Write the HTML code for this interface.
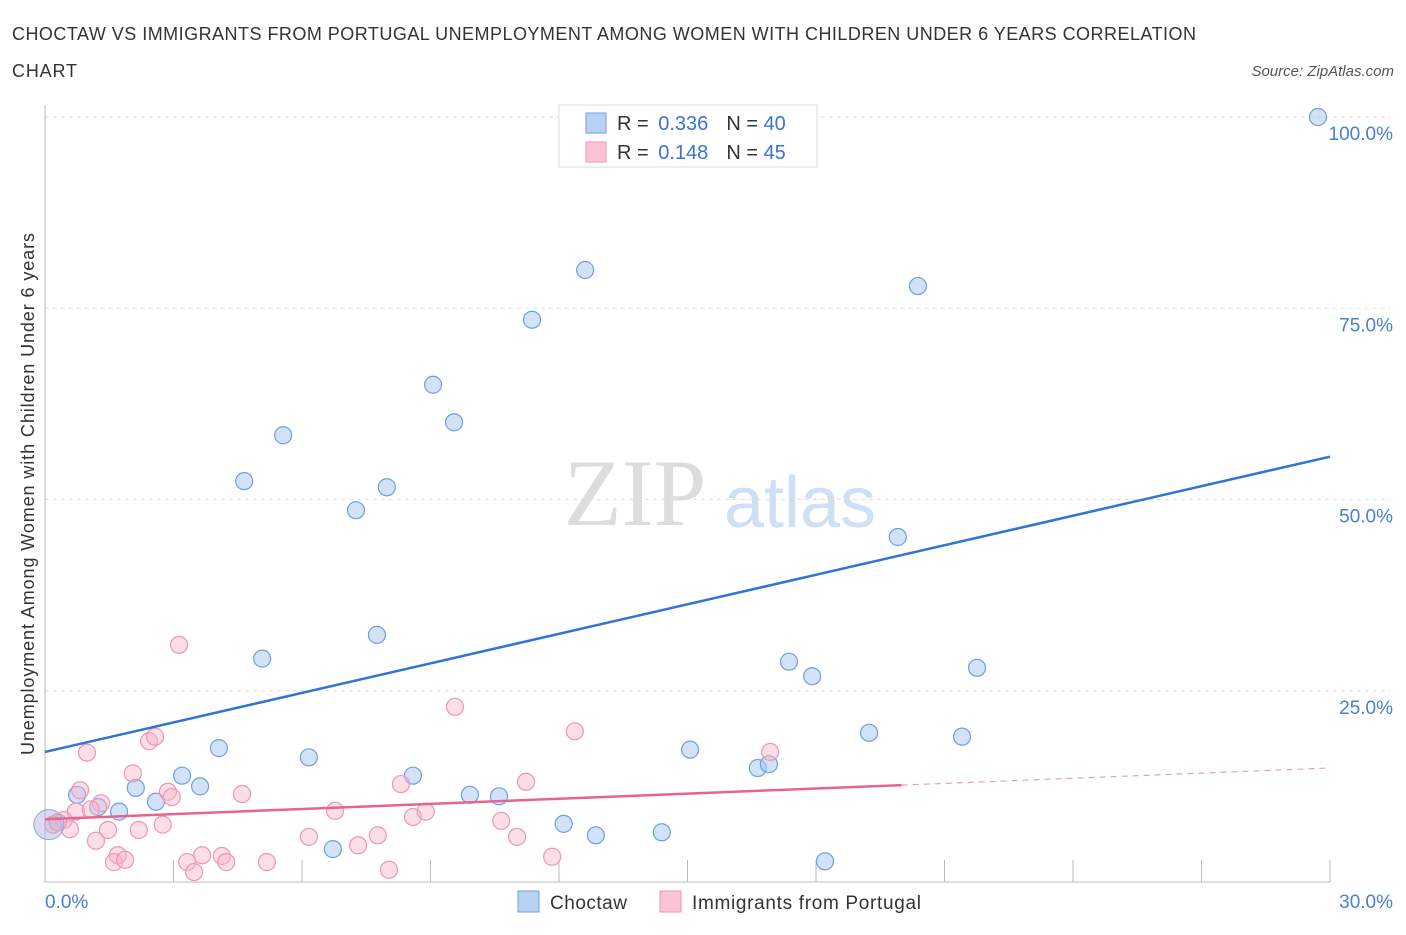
<!DOCTYPE html>
<html><head><meta charset="utf-8"><style>
body{margin:0;background:#fff;font-family:"Liberation Sans",sans-serif}
</style></head><body>
<svg id="c" width="1406" height="930" xmlns="http://www.w3.org/2000/svg"></svg>
<script>
const xTicks=[0,30];
const yTicks=[25,50,75,100];
const blueX=[29.72,13.52,12.61,20.38,11.37,9.06,9.55,5.56,4.65,7.98,7.26,19.91,7.75,5.07,4.06,6.16,8.59,3.20,3.62,2.12,0.75,2.59,1.24,1.73,9.92,10.60,12.11,12.86,6.72,14.40,18.21,15.06,16.64,16.90,19.24,21.41,21.76,17.91,17.37];
const blueY=[100,100,80.0,77.9,73.5,65.0,60.1,58.4,52.4,51.6,48.6,45.1,32.3,29.2,17.5,16.3,13.9,13.9,12.5,12.3,11.4,10.5,9.8,9.2,11.4,11.2,7.6,6.1,4.3,6.5,2.7,17.3,14.9,15.4,19.5,19.0,28.0,26.9,28.8];
const pinkX=[3.13,9.57,12.37,0.98,2.43,2.57,2.05,0.82,2.87,2.96,4.60,8.31,11.23,0.72,1.31,1.07,0.44,0.19,0.58,1.47,2.19,2.75,1.19,6.77,8.59,8.89,10.65,6.16,7.77,11.02,7.31,1.70,1.61,1.87,3.32,3.48,3.67,4.13,4.23,5.18,8.03,11.84,16.93,0.3];
const pinkY=[31.0,22.9,19.7,16.9,18.4,19.0,14.2,12.0,11.8,11.1,11.5,12.8,13.1,9.2,10.3,9.5,8.1,7.5,6.9,6.8,6.8,7.5,5.4,9.3,8.5,9.2,8.0,5.9,6.1,5.9,4.8,3.5,2.6,2.9,2.6,1.3,3.5,3.4,2.6,2.6,1.6,3.3,17.0,7.8];
const blueLine=[17.0,55.6];
const pinkLine=[8.2,14.9];
const pinkSolidEnd=20.0;
const X=v=>45+v/30*1285, Y=v=>882-v*7.65;
const svg=document.getElementById('c');
function mk(t,a,p){const e=document.createElementNS('http://www.w3.org/2000/svg',t);for(const k in a)e.setAttribute(k,a[k]);(p||svg).appendChild(e);return e;}
let t;
t=mk('text',{x:12,y:40,'font-size':18,fill:'#333',textLength:1184,lengthAdjust:'spacing'});t.textContent='CHOCTAW VS IMMIGRANTS FROM PORTUGAL UNEMPLOYMENT AMONG WOMEN WITH CHILDREN UNDER 6 YEARS CORRELATION';


t=mk('text',{x:12,y:77,'font-size':18,fill:'#333',textLength:65});t.textContent='CHART';


t=mk('text',{x:1394,y:76,'font-size':15,fill:'#555','font-style':'italic','text-anchor':'end'});t.textContent='Source: ZipAtlas.com';


t=mk('text',{x:635,y:525,'font-size':95,fill:'#ddd','font-family':'Liberation Serif','text-anchor':'middle'});t.textContent='ZIP';


t=mk('text',{x:800,y:527,'font-size':72,fill:'#cfe0f5','text-anchor':'middle'});t.textContent='atlas';


yTicks.forEach(v=>{const g=mk('line',{x1:45,x2:1390,y1:Y(v),y2:Y(v),stroke:'#ddd','stroke-dasharray':'4,4'});


const l=mk('text',{x:1393,y:Y(v)+23,'font-size':19,fill:'#4a7fd4','text-anchor':'end'});l.textContent=v.toFixed(1)+'%';

});
let a=mk('line',{x1:45,x2:1330,y1:882,y2:882,stroke:'#bbb'});
a=mk('line',{x1:45,x2:45,y1:105,y2:882,stroke:'#bbb'});
for(let i=1;i<=10;i++){const k=mk('line',{x1:X(i*3),x2:X(i*3),y1:860,y2:882,stroke:'#bbb'});

}
xTicks.forEach((v,i)=>{const l=mk('text',{x:i?1393:45,y:908,'font-size':19,fill:'#4a7fd4','text-anchor':i?'end':'start'});l.textContent=v.toFixed(1)+'%';

});
t=mk('text',{x:34,y:494,'font-size':18,fill:'#333','text-anchor':'middle',transform:'rotate(-90 34 494)',textLength:522});t.textContent='Unemployment Among Women with Children Under 6 years';


blueX.forEach((x,i)=>{const c=mk('circle',{cx:X(x),cy:Y(blueY[i]),r:8.5,fill:'rgba(165,198,240,0.5)',stroke:'#6f9fe0','stroke-width':1.2});

});
pinkX.forEach((x,i)=>{const c=mk('circle',{cx:X(x),cy:Y(pinkY[i]),r:8.5,fill:'rgba(248,182,202,0.45)',stroke:'#f095b2','stroke-width':1.2});

});
let b=mk('circle',{cx:X(0.09),cy:Y(7.5),r:15,fill:'rgba(175,175,220,0.45)',stroke:'#8fa8e0'});


let ln=mk('line',{x1:X(0),y1:Y(blueLine[0]),x2:X(30),y2:Y(blueLine[1]),stroke:'#2f74d6','stroke-width':2.5});


const pm=(pinkLine[1]-pinkLine[0])/30;
ln=mk('line',{x1:X(0),y1:Y(pinkLine[0]),x2:X(pinkSolidEnd),y2:Y(pinkLine[0]+pm*pinkSolidEnd),stroke:'#e8638f','stroke-width':2.5});


ln=mk('line',{x1:X(pinkSolidEnd),y1:Y(pinkLine[0]+pm*pinkSolidEnd),x2:X(30),y2:Y(pinkLine[1]),stroke:'#e8a0b8','stroke-width':1.2,'stroke-dasharray':'6,5'});


const lg=mk('g',{});


mk('rect',{x:559,y:105,width:258,height:62,fill:'#fff',stroke:'#ddd'},lg);
[['rgba(165,198,240,0.8)','#6f9fe0','0.336','40',123],['rgba(248,182,202,0.8)','#f095b2','0.148','45',152]].forEach(r=>{
mk('rect',{x:586,y:r[4]-10,width:20,height:20,fill:r[0],stroke:r[1]},lg);
const s=mk('text',{x:617,y:r[4]+7,'font-size':20,fill:'#333'},lg);
s.innerHTML='R = <tspan fill="#3b73d0" dx="4">'+r[2]+'</tspan><tspan dx="18">N = </tspan><tspan fill="#3b73d0">'+r[3]+'</tspan>';});
[['rgba(165,198,240,0.8)','#6f9fe0','Choctaw',518,'legend-choctaw',77],['rgba(248,182,202,0.8)','#f095b2','Immigrants from Portugal',660,'legend-portugal',229]].forEach(r=>{
const g=mk('g',{});


mk('rect',{x:r[3],y:891,width:21,height:21,fill:r[0],stroke:r[1]},g);
const s=mk('text',{x:r[3]+32,y:909,'font-size':19,fill:'#333',textLength:r[5]},g);s.textContent=r[2];});
</script>
</body></html>
